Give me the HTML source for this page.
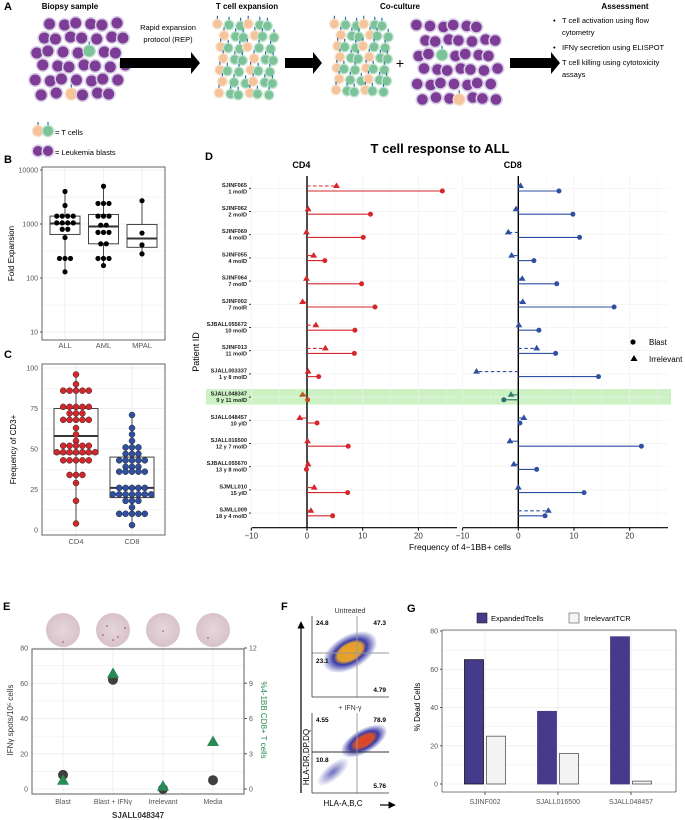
<!DOCTYPE html>
<html><head><meta charset="utf-8"><style>
html,body{margin:0;padding:0;background:#fff;width:685px;height:820px;overflow:hidden}
svg text{font-family:"Liberation Sans",Arial,sans-serif}
</style></head><body>
<svg id="fig" width="685" height="820" viewBox="0 0 685 820" xmlns="http://www.w3.org/2000/svg">
<defs>
<radialGradient id="gU" cx="50%" cy="50%" r="50%"><stop offset="0" stop-color="#f0a020"/><stop offset="0.45" stop-color="#e0a030"/><stop offset="0.6" stop-color="#3a3aa8"/><stop offset="1" stop-color="#3a3aa8" stop-opacity="0"/></radialGradient>
<radialGradient id="gL" cx="50%" cy="50%" r="50%"><stop offset="0" stop-color="#e04020"/><stop offset="0.4" stop-color="#d05030"/><stop offset="0.6" stop-color="#3a3aa8"/><stop offset="1" stop-color="#3a3aa8" stop-opacity="0"/></radialGradient>
<radialGradient id="gT" cx="50%" cy="50%" r="50%"><stop offset="0" stop-color="#4848b0" stop-opacity="0.8"/><stop offset="1" stop-color="#4848b0" stop-opacity="0"/></radialGradient>
<radialGradient id="well" cx="50%" cy="50%" r="50%"><stop offset="0" stop-color="#e6d6dc"/><stop offset="1" stop-color="#d8c2cb"/></radialGradient>
<marker id="ah" viewBox="0 0 10 10" refX="9" refY="5" markerWidth="6" markerHeight="6" orient="auto"><path d="M0,0L10,5L0,10z" fill="#000"/></marker>
</defs>
<g id="panelA">
<text x="4" y="10" font-size="11" font-weight="bold">A</text>
<text x="70" y="9" font-size="8" font-weight="bold" text-anchor="middle">Biopsy sample</text>
<text x="168" y="30" font-size="7.5" text-anchor="middle">Rapid expansion</text>
<text x="168" y="42" font-size="7.5" text-anchor="middle">protocol (REP)</text>
<text x="247" y="9" font-size="8" font-weight="bold" text-anchor="middle">T cell expansion</text>
<text x="400" y="9" font-size="8" font-weight="bold" text-anchor="middle">Co-culture</text>
<text x="400" y="68" font-size="14" text-anchor="middle">+</text>
<text x="625" y="9" font-size="8" font-weight="bold" text-anchor="middle">Assessment</text>
<g font-size="7.5">
<text x="553" y="23">•</text><text x="562" y="23">T cell activation using flow</text><text x="562" y="35">cytometry</text>
<text x="553" y="50">•</text><text x="562" y="50">IFNγ secretion using ELISPOT</text>
<text x="553" y="65">•</text><text x="562" y="65">T cell killing using cytotoxicity</text><text x="562" y="77">assays</text>
</g>
<text x="55" y="135" font-size="7.5">= T cells</text>
<text x="55" y="155" font-size="7.5">= Leukemia blasts</text>
</g>
<text x="4" y="163" font-size="11" font-weight="bold">B</text>
<text x="4" y="358" font-size="11" font-weight="bold">C</text>
<text x="205" y="160" font-size="11" font-weight="bold">D</text>
<text x="3" y="610" font-size="11" font-weight="bold">E</text>
<text x="281" y="610" font-size="11" font-weight="bold">F</text>
<text x="407" y="612" font-size="11" font-weight="bold">G</text>
</svg>
<script>
// ---------- DATA ----------
// Panel B
const bGroups=["ALL","AML","MPAL"];
const bPointsALL=[4000,2200,1400,1400,1400,1400,1050,1050,1050,1050,800,800,560,230,230,230,130];
const bPointsAML=[5000,2400,2400,2400,1400,1400,1400,950,950,700,700,700,430,430,230,230,230,170];
const bPointsMPAL=[2700,680,410,280];
const bQ1=[640,430,370];
const bMed=[1020,900,540];
const bQ3=[1400,1500,980];
const bMin=[130,170,280];
const bMax=[4000,5000,2700];
const bTicks=[10,100,1000,10000];
// Panel C
const cGroups=["CD4","CD8"];
const cPointsCD4=[96,90,86,86,86,86,86,76,76,76,76,76,72,72,72,68,68,68,68,68,63,59,55,52,52,52,52,52,48,48,48,48,48,48,48,43,43,43,43,43,34,34,34,29,18,4];
const cPointsCD8=[71,63,59,55,51,51,51,47,47,47,43,43,43,43,43,39,39,39,36,36,36,36,36,26,26,26,26,26,22,22,22,22,22,22,22,18,18,18,14,10,10,10,10,10,3];
const cQ1=[47,20],cMed=[58,26],cQ3=[75,45],cMin=[4,3],cMax=[96,71];
const cTicks=[0,25,50,75,100];
// Panel D
const dPatients=["SJINF065","SJINF062","SJINF069","SJINF055","SJINF064","SJINF002","SJBALL055672","SJINF013","SJALL003337","SJALL048347","SJALL048457","SJALL016500","SJBALL055670","SJMLL010","SJMLL009"];
const dAges=["1 moID","2 moID","4 moID","4 moID","7 moID","7 moIR","10 moID","11 moID","1 y 8 moID","9 y 11 moID","10 yID","12 y 7 moID","13 y 8 moID","15 yID","18 y 4 moID"];
const dCD4Blast=[24.3,11.4,10.1,3.2,9.8,12.2,8.6,8.5,2.1,0.1,1.8,7.4,-0.1,7.3,4.6];
const dCD4Irr=[5.3,0.2,-0.1,1.2,-0.1,-0.8,1.6,3.3,0.2,-0.8,-1.3,0.1,0.2,1.3,0.7];
const dCD8Blast=[7.3,9.8,11,2.8,6.9,17.2,3.7,6.7,14.4,-2.6,0.3,22.1,3.3,11.8,4.8];
const dCD8Irr=[0.4,-0.4,-1.8,-1.2,0.7,0.8,0.1,3.3,-7.5,-1.3,1.0,-1.5,-0.8,0,5.4];
const dTicks=[-10,0,10,20];
const dHighlight=9;
// Panel E
const eCats=["Blast","Blast + IFNγ","Irrelevant","Media"];
const eSpots=[8,62,0,5];
const eActivation=[0.7,9.8,0.2,4.0];
const eLeftTicks=[0,20,40,60,80];
const eRightTicks=[0,3,6,9,12];
// Panel G
const gCats=["SJINF002","SJALL016500","SJALL048457"];
const gExpanded=[65,38,77];
const gIrrelevant=[25,16,1.5];
const gTicks=[0,20,40,60,80];

// ---------- HELPERS ----------
const NS='http://www.w3.org/2000/svg';
const svg=document.getElementById('fig');
function mk(tag,attrs,parent){const e=document.createElementNS(NS,tag);for(const k in attrs)e.setAttribute(k,attrs[k]);(parent||svg).appendChild(e);return e;}
function txt(x,y,s,attrs,parent){const t=mk('text',Object.assign({x:x,y:y},attrs||{}),parent);t.textContent=s;return t;}
function swarm(vals,cx,step){const cnt={},idx={};vals.forEach(v=>cnt[v]=(cnt[v]||0)+1);return vals.map(v=>{idx[v]=(idx[v]||0);const k=idx[v]++;return cx+(k-(cnt[v]-1)/2)*step;});}

// ---------- PANEL A (illustration) ----------
const gA=document.getElementById('panelA');
function cell(x,y,col,r,recep){
  if(col==='p'){mk('circle',{cx:x,cy:y,r:r+1.6,fill:'#d9cfe6'},gA);mk('circle',{cx:x,cy:y,r:r,fill:'#7d3d96'},gA);}
  else{const f=col==='o'?'#f4c49c':'#7cc39a';const h=col==='o'?'#fae3cf':'#c3e4cf';
    mk('circle',{cx:x,cy:y,r:r+1.3,fill:h},gA);mk('circle',{cx:x,cy:y,r:r,fill:f},gA);
    if(recep)mk('line',{x1:x,y1:y-r-1,x2:x,y2:y-r-4,stroke:'#2a6fb0','stroke-width':1.2},gA);}
}
function blob(x0,y0,cols,rows,dx,dy,r,pattern){
  for(let j=0;j<rows;j++)for(let i=0;i<cols;i++){
    const k=j*cols+i;const sh=(j%2)*dx/2;const jit=((k*37)%5-2)*0.8;
    const x=x0+i*dx+sh+jit,y=y0+j*dy+((k*13)%3-1);
    const c=pattern(i,j,k);if(c)cell(x,y,c,r,true);
  }
}
blob(36,24,7,6,13.5,14,5.5,(i,j,k)=>{if((i===0&&j===0)||(i===6&&j===5))return null;if(k===18)return 'g';if(k===37)return 'o';return 'p';});
blob(219,25,6,7,10,11.5,4.2,(i,j,k)=>(k*7)%3===0?'o':'g');
blob(336,25,6,7,9.5,11,4.2,(i,j,k)=>(k*5)%3===0?'o':'g');
blob(418,26,7,6,12,14.5,5.3,(i,j,k)=>{if(i===6&&j===0)return null;if(k===16)return 'g';if(k===38)return 'o';return 'p';});
[[120,200],[285,322],[510,560]].forEach((a,i)=>{
  const p=mk('path',{d:`M${a[0]},58 L${a[1]-9},58 L${a[1]-9},52 L${a[1]},63 L${a[1]-9},74 L${a[1]-9},68 L${a[0]},68 Z`,fill:'#000'},gA);
  
  
});
cell(38,131,'o',5,true);cell(48,131,'g',5,true);
cell(38,151,'p',5,false);cell(48,151,'p',5,false);

// ---------- PANEL B ----------
const B={x0:42,x1:165,y0:167,y1:340};
const yB=v=>332-(Math.log10(v)-1)*54;
const xB=i=>65+i*38.5;
const gB=mk('g',{});


[10,100,1000,10000].forEach(v=>{[1,Math.sqrt(10)].forEach(m=>{const vv=v*m;if(vv>13000)return;mk('line',{x1:B.x0,x2:B.x1,y1:yB(vv),y2:yB(vv),stroke:'#ebebeb','stroke-width':m===1?0.8:0.5},gB);});});
bGroups.forEach((g,i)=>mk('line',{x1:xB(i),x2:xB(i),y1:B.y0,y2:B.y1,stroke:'#ebebeb','stroke-width':0.8},gB));
mk('rect',{x:B.x0,y:B.y0,width:B.x1-B.x0,height:B.y1-B.y0,fill:'none',stroke:'#555','stroke-width':0.9},gB);
bTicks.forEach(v=>{const t=txt(B.x0-4,yB(v)+2.5,String(v),{'font-size':7,'text-anchor':'end',fill:'#555'},gB);mk('line',{x1:B.x0-2,x2:B.x0,y1:yB(v),y2:yB(v),stroke:'#555'},gB);});
const bPts=[bPointsALL,bPointsAML,bPointsMPAL];
bGroups.forEach((g,i)=>{
  const cx=xB(i);
  mk('line',{x1:cx,x2:cx,y1:yB(bMin[i]),y2:yB(bMax[i]),stroke:'#333','stroke-width':0.9},gB);
  const bx=mk('rect',{x:cx-15,y:yB(bQ3[i]),width:30,height:yB(bQ1[i])-yB(bQ3[i]),fill:'#fff',stroke:'#444','stroke-width':1},gB);
  
  
  mk('line',{x1:cx-15,x2:cx+15,y1:yB(bMed[i]),y2:yB(bMed[i]),stroke:'#333','stroke-width':2},gB);
  const xs=swarm(bPts[i],cx,5.5);
  bPts[i].forEach((v,k)=>{const c=mk('circle',{cx:xs[k],cy:yB(v),r:2.6,fill:'#000'},gB);});
  const t=txt(cx,348,g,{'font-size':7.5,'text-anchor':'middle',fill:'#555'},gB);
});
const bt=txt(0,0,'Fold Expansion',{'font-size':8,'text-anchor':'middle',transform:`translate(14,${(B.y0+B.y1)/2}) rotate(-90)`},gB);


// ---------- PANEL C ----------
const C={x0:42,x1:165,y0:364,y1:535};
const yC=v=>530-v*1.62;
const xC=i=>76+i*56;
const gC=mk('g',{});


[0,12.5,25,37.5,50,62.5,75,87.5,100].forEach(v=>mk('line',{x1:C.x0,x2:C.x1,y1:yC(v),y2:yC(v),stroke:'#ebebeb','stroke-width':v%25===0?0.8:0.5},gC));
cGroups.forEach((g,i)=>mk('line',{x1:xC(i),x2:xC(i),y1:C.y0,y2:C.y1,stroke:'#ebebeb','stroke-width':0.8},gC));
mk('rect',{x:C.x0,y:C.y0,width:C.x1-C.x0,height:C.y1-C.y0,fill:'none',stroke:'#555','stroke-width':0.9},gC);
cTicks.forEach(v=>{const t=txt(C.x0-4,yC(v)+2.5,String(v),{'font-size':7,'text-anchor':'end',fill:'#555'},gC);});
const cPts=[cPointsCD4,cPointsCD8];const cCol=['#d7262b','#2f4fa2'];
cGroups.forEach((g,i)=>{
  const cx=xC(i);
  mk('line',{x1:cx,x2:cx,y1:yC(cMin[i]),y2:yC(cMax[i]),stroke:'#333','stroke-width':0.9},gC);
  const bx=mk('rect',{x:cx-22,y:yC(cQ3[i]),width:44,height:yC(cQ1[i])-yC(cQ3[i]),fill:'#fff',stroke:'#444','stroke-width':1},gC);
  
  
  mk('line',{x1:cx-22,x2:cx+22,y1:yC(cMed[i]),y2:yC(cMed[i]),stroke:'#333','stroke-width':2},gC);
  const xs=swarm(cPts[i],cx,6.4);
  cPts[i].forEach((v,k)=>{const c=mk('circle',{cx:xs[k],cy:yC(v),r:3,fill:cCol[i],stroke:'#222','stroke-width':0.5},gC);});
  const t=txt(cx,544,g,{'font-size':7.5,'text-anchor':'middle',fill:'#555'},gC);
});
const ct=txt(0,0,'Frequency of CD3+',{'font-size':8,'text-anchor':'middle',transform:`translate(16,${(C.y0+C.y1)/2}) rotate(-90)`},gC);


// ---------- PANEL D ----------
const gD=mk('g',{});


const D={y0:176,y1:527.7};
const rowY=i=>188.3+i*23.2;
const facets=[{name:'CD4',x:v=>307+v*5.57,xl:252,xr:457,col:'#d7262b',blast:dCD4Blast,irr:dCD4Irr},
              {name:'CD8',x:v=>518.3+v*5.57,xl:462.7,xr:668,col:'#2f4fa2',blast:dCD8Blast,irr:dCD8Irr}];
const hl=mk('rect',{x:206,y:rowY(dHighlight)-8,width:465,height:15.5,fill:'#ccf2c4'},gD);


const dt=txt(440,153,'T cell response to ALL',{'font-size':13,'font-weight':'bold','text-anchor':'middle'},gD);

facets.forEach((f,fi)=>{
  const h=txt(f.x(-1),168,f.name,{'font-size':9,'font-weight':'bold','text-anchor':'middle'},gD);
  
  [-5,5,15,25].concat(dTicks).forEach(v=>{if(f.x(v)>f.xr)return;mk('line',{x1:f.x(v),x2:f.x(v),y1:D.y0,y2:D.y1,stroke:'#f0f0f0','stroke-width':dTicks.includes(v)?0.7:0.4},gD);});
  dPatients.forEach((p,i)=>mk('line',{x1:f.xl,x2:f.xr,y1:rowY(i),y2:rowY(i),stroke:'#f0f0f0','stroke-width':0.7},gD));
  mk('line',{x1:f.xl,x2:f.xr,y1:D.y1,y2:D.y1,stroke:'#000','stroke-width':1.2},gD);
  dTicks.forEach(v=>{mk('line',{x1:f.x(v),x2:f.x(v),y1:D.y1,y2:D.y1+3,stroke:'#000'},gD);
    const t=txt(f.x(v),D.y1+11,v<0?'\u2212'+Math.abs(v):String(v),{'font-size':8,'text-anchor':'middle',fill:'#333'},gD);
    });
  mk('line',{x1:f.x(0),x2:f.x(0),y1:D.y0,y2:D.y1,stroke:'#000','stroke-width':1.4},gD);
  dPatients.forEach((p,i)=>{
    const y=rowY(i);const hi=i===dHighlight;
    const colB=hi?(fi===0?'#c05020':'#2f6f70'):f.col;const colI=hi?(fi===0?'#b06020':'#2f7f70'):f.col;
    const yi=y-2.3,yb=y+2.7;
    const li=mk('line',{x1:f.x(0),x2:f.x(f.irr[i]),y1:yi,y2:yi,stroke:colI,'stroke-width':1.1},gD);
    if(Math.abs(f.irr[i])>1.5)li.setAttribute('stroke-dasharray','3.5,2.5');
    mk('line',{x1:f.x(0),x2:f.x(f.blast[i]),y1:yb,y2:yb,stroke:colB,'stroke-width':1.1},gD);
    const tx=f.x(f.irr[i]);
    const tr=mk('path',{d:`M${tx},${yi-3.6}L${tx+3.4},${yi+2}L${tx-3.4},${yi+2}Z`,fill:colI},gD);
    
    const c=mk('circle',{cx:f.x(f.blast[i]),cy:yb,r:2.5,fill:colB},gD);
    
  });
});
dPatients.forEach((p,i)=>{
  const y=rowY(i);
  const t1=txt(247,y-1.5,p,{'font-size':5.6,'font-weight':'bold','text-anchor':'end',fill:'#222'},gD);
  
  const t2=txt(247,y+5,dAges[i],{'font-size':5.6,'font-weight':'bold','text-anchor':'end',fill:'#222'},gD);
  
  mk('line',{x1:249,x2:251,y1:y,y2:y,stroke:'#333'},gD);
});
const pid=txt(0,0,'Patient ID',{'font-size':9,'text-anchor':'middle',transform:'translate(199,352) rotate(-90)'},gD);

const dx=txt(460,550,'Frequency of 4\u22121BB+ cells',{'font-size':8.5,'text-anchor':'middle'},gD);

mk('circle',{cx:633,cy:342,r:2.6,fill:'#000'},gD);
const l1=txt(649,345,'Blast',{'font-size':8},gD);
mk('path',{d:'M634,355L637.5,361L630.5,361Z',fill:'#000'},gD);
const l2=txt(649,362,'Irrelevant',{'font-size':8},gD);

// ---------- PANEL E ----------
const gE=mk('g',{});


const E={x0:32,x1:244,y0:649,y1:794};
const yEl=v=>789-v*(141/80);
const yEr=v=>789-v*(141/12);
const xE=i=>63+i*50;
eCats.forEach((c,i)=>{
  const w=mk('circle',{cx:xE(i),cy:630,r:17,fill:'url(#well)'},gE);
  
});
[[63,642],[118,637],[107,626],[113,640],[125,628],[103,635],[163,631],[208,638]].forEach(p=>mk('circle',{cx:p[0],cy:p[1],r:0.8,fill:'#a0406a'},gE));
[0,10,20,30,40,50,60,70,80].forEach(v=>mk('line',{x1:E.x0,x2:E.x1,y1:yEl(v),y2:yEl(v),stroke:'#ebebeb','stroke-width':v%20===0?0.8:0.5},gE));
eCats.forEach((c,i)=>mk('line',{x1:xE(i),x2:xE(i),y1:E.y0,y2:E.y1,stroke:'#ebebeb','stroke-width':0.8},gE));
mk('rect',{x:E.x0,y:E.y0,width:E.x1-E.x0,height:E.y1-E.y0,fill:'none',stroke:'#777','stroke-width':1.2},gE);
eLeftTicks.forEach(v=>{const t=txt(E.x0-4,yEl(v)+2.5,String(v),{'font-size':7,'text-anchor':'end',fill:'#555'},gE);});
eRightTicks.forEach(v=>{mk('line',{x1:E.x1,x2:E.x1+3,y1:yEr(v),y2:yEr(v),stroke:'#555'},gE);const t=txt(E.x1+5,yEr(v)+2.5,String(v),{'font-size':7,fill:'#555'},gE);});
eCats.forEach((c,i)=>{
  const cc=mk('circle',{cx:xE(i),cy:yEl(eSpots[i]),r:5,fill:'#3f3f3f'},gE);
  
  const x=xE(i),y=yEr(eActivation[i]);
  const tr=mk('path',{d:`M${x},${y-6.5}L${x+6},${y+4}L${x-6},${y+4}Z`,fill:'#2a8a55'},gE);
  
  const t=txt(x,804,c,{'font-size':7,'text-anchor':'middle',fill:'#555'},gE);
});
const ex=txt(138,818,'SJALL048347',{'font-size':8,'font-weight':'bold','text-anchor':'middle',fill:'#333'},gE);

const ey=txt(0,0,'IFNγ spots/10⁵ cells',{'font-size':8,'text-anchor':'middle',fill:'#333',transform:'translate(13,720) rotate(-90)'},gE);

const ey2=txt(0,0,'%4-1BB CD8+ T cells',{'font-size':8,'text-anchor':'middle',fill:'#2a8a55',transform:'translate(261,720) rotate(90)'},gE);


// ---------- PANEL F ----------
const gF=mk('g',{});


[[616,697,653,'Untreated',['24.8','47.3','23.1','4.79']],[713,793,752,'+ IFN-γ',['4.55','78.9','10.8','5.76']]].forEach((p,k)=>{
  const [y0,y1,yh,title,q]=p;
  const cx=k===0?350:364,cy=k===0?652:741;
  if(k===1)mk('ellipse',{cx:333,cy:772,rx:20,ry:8,fill:'url(#gT)',transform:'rotate(-40 333 772)'},gF);
  mk('ellipse',{cx:cx,cy:cy,rx:k===0?30:26,ry:k===0?17:12,fill:k===0?'url(#gU)':'url(#gL)',transform:`rotate(-30 ${cx} ${cy})`},gF);
  mk('line',{x1:312,x2:389,y1:yh,y2:yh,stroke:k===0?'#999':'#333','stroke-width':0.9},gF);
  mk('line',{x1:357,x2:357,y1:y0,y2:y1,stroke:'#999','stroke-width':0.9},gF);
  mk('line',{x1:312,x2:312,y1:y0,y2:y1,stroke:'#333','stroke-width':0.8},gF);
  mk('line',{x1:312,x2:389,y1:y1,y2:y1,stroke:'#333','stroke-width':0.8},gF);
  const t=txt(350,y0-3,title,{'font-size':7,'text-anchor':'middle',fill:'#333'},gF);
  const qs=[[316,y0+9,'start'],[386,y0+9,'end'],[316,yh+10,'start'],[386,y1-5,'end']];
  qs.forEach((qq,j)=>{const tt=txt(qq[0],qq[1],q[j],{'font-size':6.5,'font-weight':'bold','text-anchor':qq[2]},gF);});
});
mk('line',{x1:301,x2:301,y1:793,y2:622,stroke:'#000','stroke-width':1.2,'marker-end':'url(#ah)'},gF);
mk('line',{x1:380,x2:395,y1:805,y2:805,stroke:'#000','stroke-width':1.2,'marker-end':'url(#ah)'},gF);
const fy=txt(0,0,'HLA-DR,DP,DQ',{'font-size':8,'text-anchor':'middle',transform:'translate(309,757) rotate(-90)'},gF);

const fx=txt(343,806,'HLA-A,B,C',{'font-size':8,'text-anchor':'middle'},gF);


// ---------- PANEL G ----------
const gG=mk('g',{});


const G={x0:442,x1:676,y0:630,y1:792};
const yG=v=>784-v*1.9125;
const xG=i=>485+i*73;
[0,10,20,30,40,50,60,70,80].forEach(v=>mk('line',{x1:G.x0,x2:G.x1,y1:yG(v),y2:yG(v),stroke:'#ebebeb','stroke-width':v%20===0?0.8:0.5},gG));
gCats.forEach((c,i)=>mk('line',{x1:xG(i),x2:xG(i),y1:G.y0,y2:G.y1,stroke:'#ebebeb','stroke-width':0.8},gG));
gCats.forEach((c,i)=>{
  const b1=mk('rect',{x:xG(i)-20.5,y:yG(gExpanded[i]),width:19,height:yG(0)-yG(gExpanded[i]),fill:'#463a8a',stroke:i===0?'#111':'#463a8a','stroke-width':0.8},gG);
  
  const b2=mk('rect',{x:xG(i)+1.5,y:yG(gIrrelevant[i]),width:19,height:yG(0)-yG(gIrrelevant[i]),fill:'#f3f4f3',stroke:'#555','stroke-width':0.8},gG);
  
  mk('line',{x1:xG(i),x2:xG(i),y1:G.y1,y2:G.y1+3,stroke:'#555'},gG);
  const t=txt(xG(i),804,c,{'font-size':7,'text-anchor':'middle',fill:'#555'},gG);
});
mk('line',{x1:G.x0,x2:G.x0,y1:G.y0,y2:G.y1,stroke:'#555','stroke-width':0.8},gG);
mk('line',{x1:G.x0,x2:G.x1,y1:G.y1,y2:G.y1,stroke:'#555','stroke-width':0.8},gG);
mk('line',{x1:G.x1,x2:G.x1,y1:G.y0,y2:G.y1,stroke:'#555','stroke-width':0.8},gG);
mk('line',{x1:G.x0,x2:G.x1,y1:G.y0,y2:G.y0,stroke:'#555','stroke-width':0.8},gG);
gTicks.forEach(v=>{mk('line',{x1:G.x0-2,x2:G.x0,y1:yG(v),y2:yG(v),stroke:'#555'},gG);const t=txt(G.x0-4,yG(v)+2.5,String(v),{'font-size':7,'text-anchor':'end',fill:'#555'},gG);});
const gy=txt(0,0,'% Dead Cells',{'font-size':8,'text-anchor':'middle',transform:'translate(420,707) rotate(-90)'},gG);

mk('rect',{x:477,y:613,width:10,height:10,fill:'#463a8a',stroke:'#222','stroke-width':0.6},gG);
const gl1=txt(491,621,'ExpandedTcells',{'font-size':7.5},gG);
mk('rect',{x:569,y:613,width:10,height:10,fill:'#f3f4f3',stroke:'#555','stroke-width':0.6},gG);
const gl2=txt(584,621,'IrrelevantTCR',{'font-size':7.5},gG);
</script>
</body></html>
